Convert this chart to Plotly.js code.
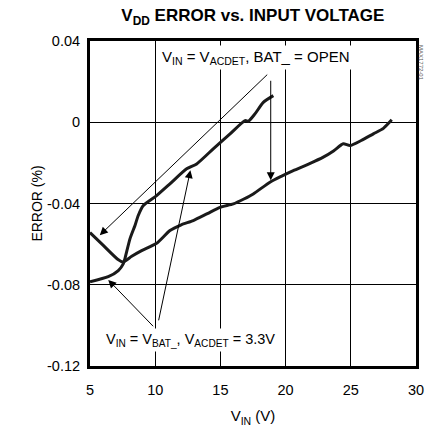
<!DOCTYPE html>
<html>
<head>
<meta charset="utf-8">
<script src="https://cdn.plot.ly/plotly-3.0.1.min.js"></script>
<style>html,body{margin:0;padding:0;background:#fff;}#chart{width:425px;height:432px;}</style>
</head>
<body>
<div id="chart"></div>
<script>
// Series 1: VIN = VACDET, BAT_ = OPEN
const vinOpen = [5.0, 6.0, 7.15, 7.53, 8.2, 8.96, 10.11, 11.13, 12.0, 12.92, 14.0, 14.97, 15.99, 16.8, 17.52, 18.8, 19.7, 20.59, 21.8, 22.89, 23.7, 24.42, 24.94, 25.8, 26.73, 27.5, 28.14];
const errOpen = [-0.0543, -0.0605, -0.0676, -0.0688, -0.0660, -0.0632, -0.0596, -0.0533, -0.0505, -0.0484, -0.0450, -0.0419, -0.0402, -0.0378, -0.0353, -0.0295, -0.0265, -0.0238, -0.0205, -0.0172, -0.0140, -0.0106, -0.0115, -0.0090, -0.0057, -0.0030, 0.0012];
// Series 2: VIN = VBAT_, VACDET = 3.3V
const vinBat = [5.0, 6.4, 7.17, 7.55, 7.68, 8.07, 8.45, 8.7, 9.09, 10.11, 11.13, 12.41, 13.18, 14.45, 15.74, 16.89, 17.15, 17.65, 18.29, 19.06];
const errBat = [-0.0785, -0.0760, -0.0730, -0.0697, -0.0671, -0.0573, -0.0508, -0.0459, -0.0410, -0.0361, -0.0303, -0.0229, -0.0205, -0.0131, -0.0057, 0.0008, 0.0005, 0.0041, 0.0098, 0.0131];
// Tick labels
const xTicks = [5, 10, 15, 20, 25, 30];
const yTicks = [0.04, 0, -0.04, -0.08, -0.12];
const yTickText = ['0.04', '0', '-0.04', '-0.08', '-0.12'];

const FONT = 'Liberation Sans, Arial, sans-serif';

const traces = [
  {x: vinOpen, y: errOpen, mode: 'lines', line: {color: '#1a1a1a', width: 3, shape: 'spline', smoothing: 0.6}, hoverinfo: 'skip'},
  {x: vinBat, y: errBat, mode: 'lines', line: {color: '#1a1a1a', width: 3, shape: 'spline', smoothing: 0.6}, hoverinfo: 'skip'}
];

const arrowBase = {showarrow: true, arrowhead: 2, arrowsize: 1.6, arrowwidth: 1, arrowcolor: '#000', axref: 'x', ayref: 'y', text: ' ', standoff: 0};

const layout = {
  width: 425, height: 432,
  margin: {l: 90, r: 9, t: 41, b: 66},
  paper_bgcolor: '#fff', plot_bgcolor: '#fff',
  showlegend: false,
  font: {family: FONT, color: '#000', size: 14},
  title: {text: '<b>V<sub>DD</sub> ERROR vs. INPUT VOLTAGE</b>', x: 0.595, xanchor: 'center', y: 0.965, yanchor: 'middle', font: {family: FONT, size: 17, color: '#000'}},
  xaxis: {
    range: [5, 30], tickvals: xTicks, ticktext: xTicks.map(String), ticks: '',
    showgrid: true, gridcolor: '#000', gridwidth: 1, zeroline: false,
    showline: true, mirror: true, linecolor: '#000', linewidth: 3,
    tickfont: {family: FONT, size: 14.5}, ticklabelstandoff: 9,
    title: {text: 'V<sub>IN</sub> (V)', font: {family: FONT, size: 15}, standoff: 14}
  },
  yaxis: {
    range: [-0.12, 0.04], tickvals: yTicks, ticktext: yTickText, ticks: '',
    showgrid: true, gridcolor: '#000', gridwidth: 1, zeroline: false,
    showline: true, mirror: true, linecolor: '#000', linewidth: 3,
    tickfont: {family: FONT, size: 14.5}, ticklabelstandoff: 4,
    title: {text: 'ERROR (%)', font: {family: FONT, size: 14}, standoff: 2}
  },
  annotations: [
    Object.assign({}, arrowBase, {x: 5.75, y: -0.0556, ax: 18.86, ay: 0.0251}),
    Object.assign({}, arrowBase, {x: 18.86, y: -0.0285, ax: 18.86, ay: 0.0251}),
    Object.assign({}, arrowBase, {x: 6.4, y: -0.0776, ax: 10.11, ay: -0.1022}),
    Object.assign({}, arrowBase, {x: 12.7, y: -0.0236, ax: 10.11, ay: -0.1022}),
    {x: 17.73, y: 0.0317, xref: 'x', yref: 'y', showarrow: false, bgcolor: '#fff', borderpad: 2,
     text: 'V<sub>IN</sub> = V<sub>ACDET</sub>, BAT_ = OPEN', font: {family: FONT, size: 15}},
    {x: 12.74, y: -0.1072, xref: 'x', yref: 'y', showarrow: false, bgcolor: '#fff', borderpad: 2,
     text: 'V<sub>IN</sub> = V<sub>BAT_</sub>, V<sub>ACDET</sub> = 3.3V', font: {family: FONT, size: 14.5}},
    {x: 1, y: 1, xref: 'paper', yref: 'paper', xanchor: 'center', yanchor: 'top', xshift: 5, yshift: -2, showarrow: false,
     text: 'MAX1772-01', textangle: 90, font: {family: FONT, size: 6, color: '#555'}}
  ]
};

Plotly.newPlot('chart', traces, layout, {staticPlot: true, displayModeBar: false});
</script>
</body>
</html>
